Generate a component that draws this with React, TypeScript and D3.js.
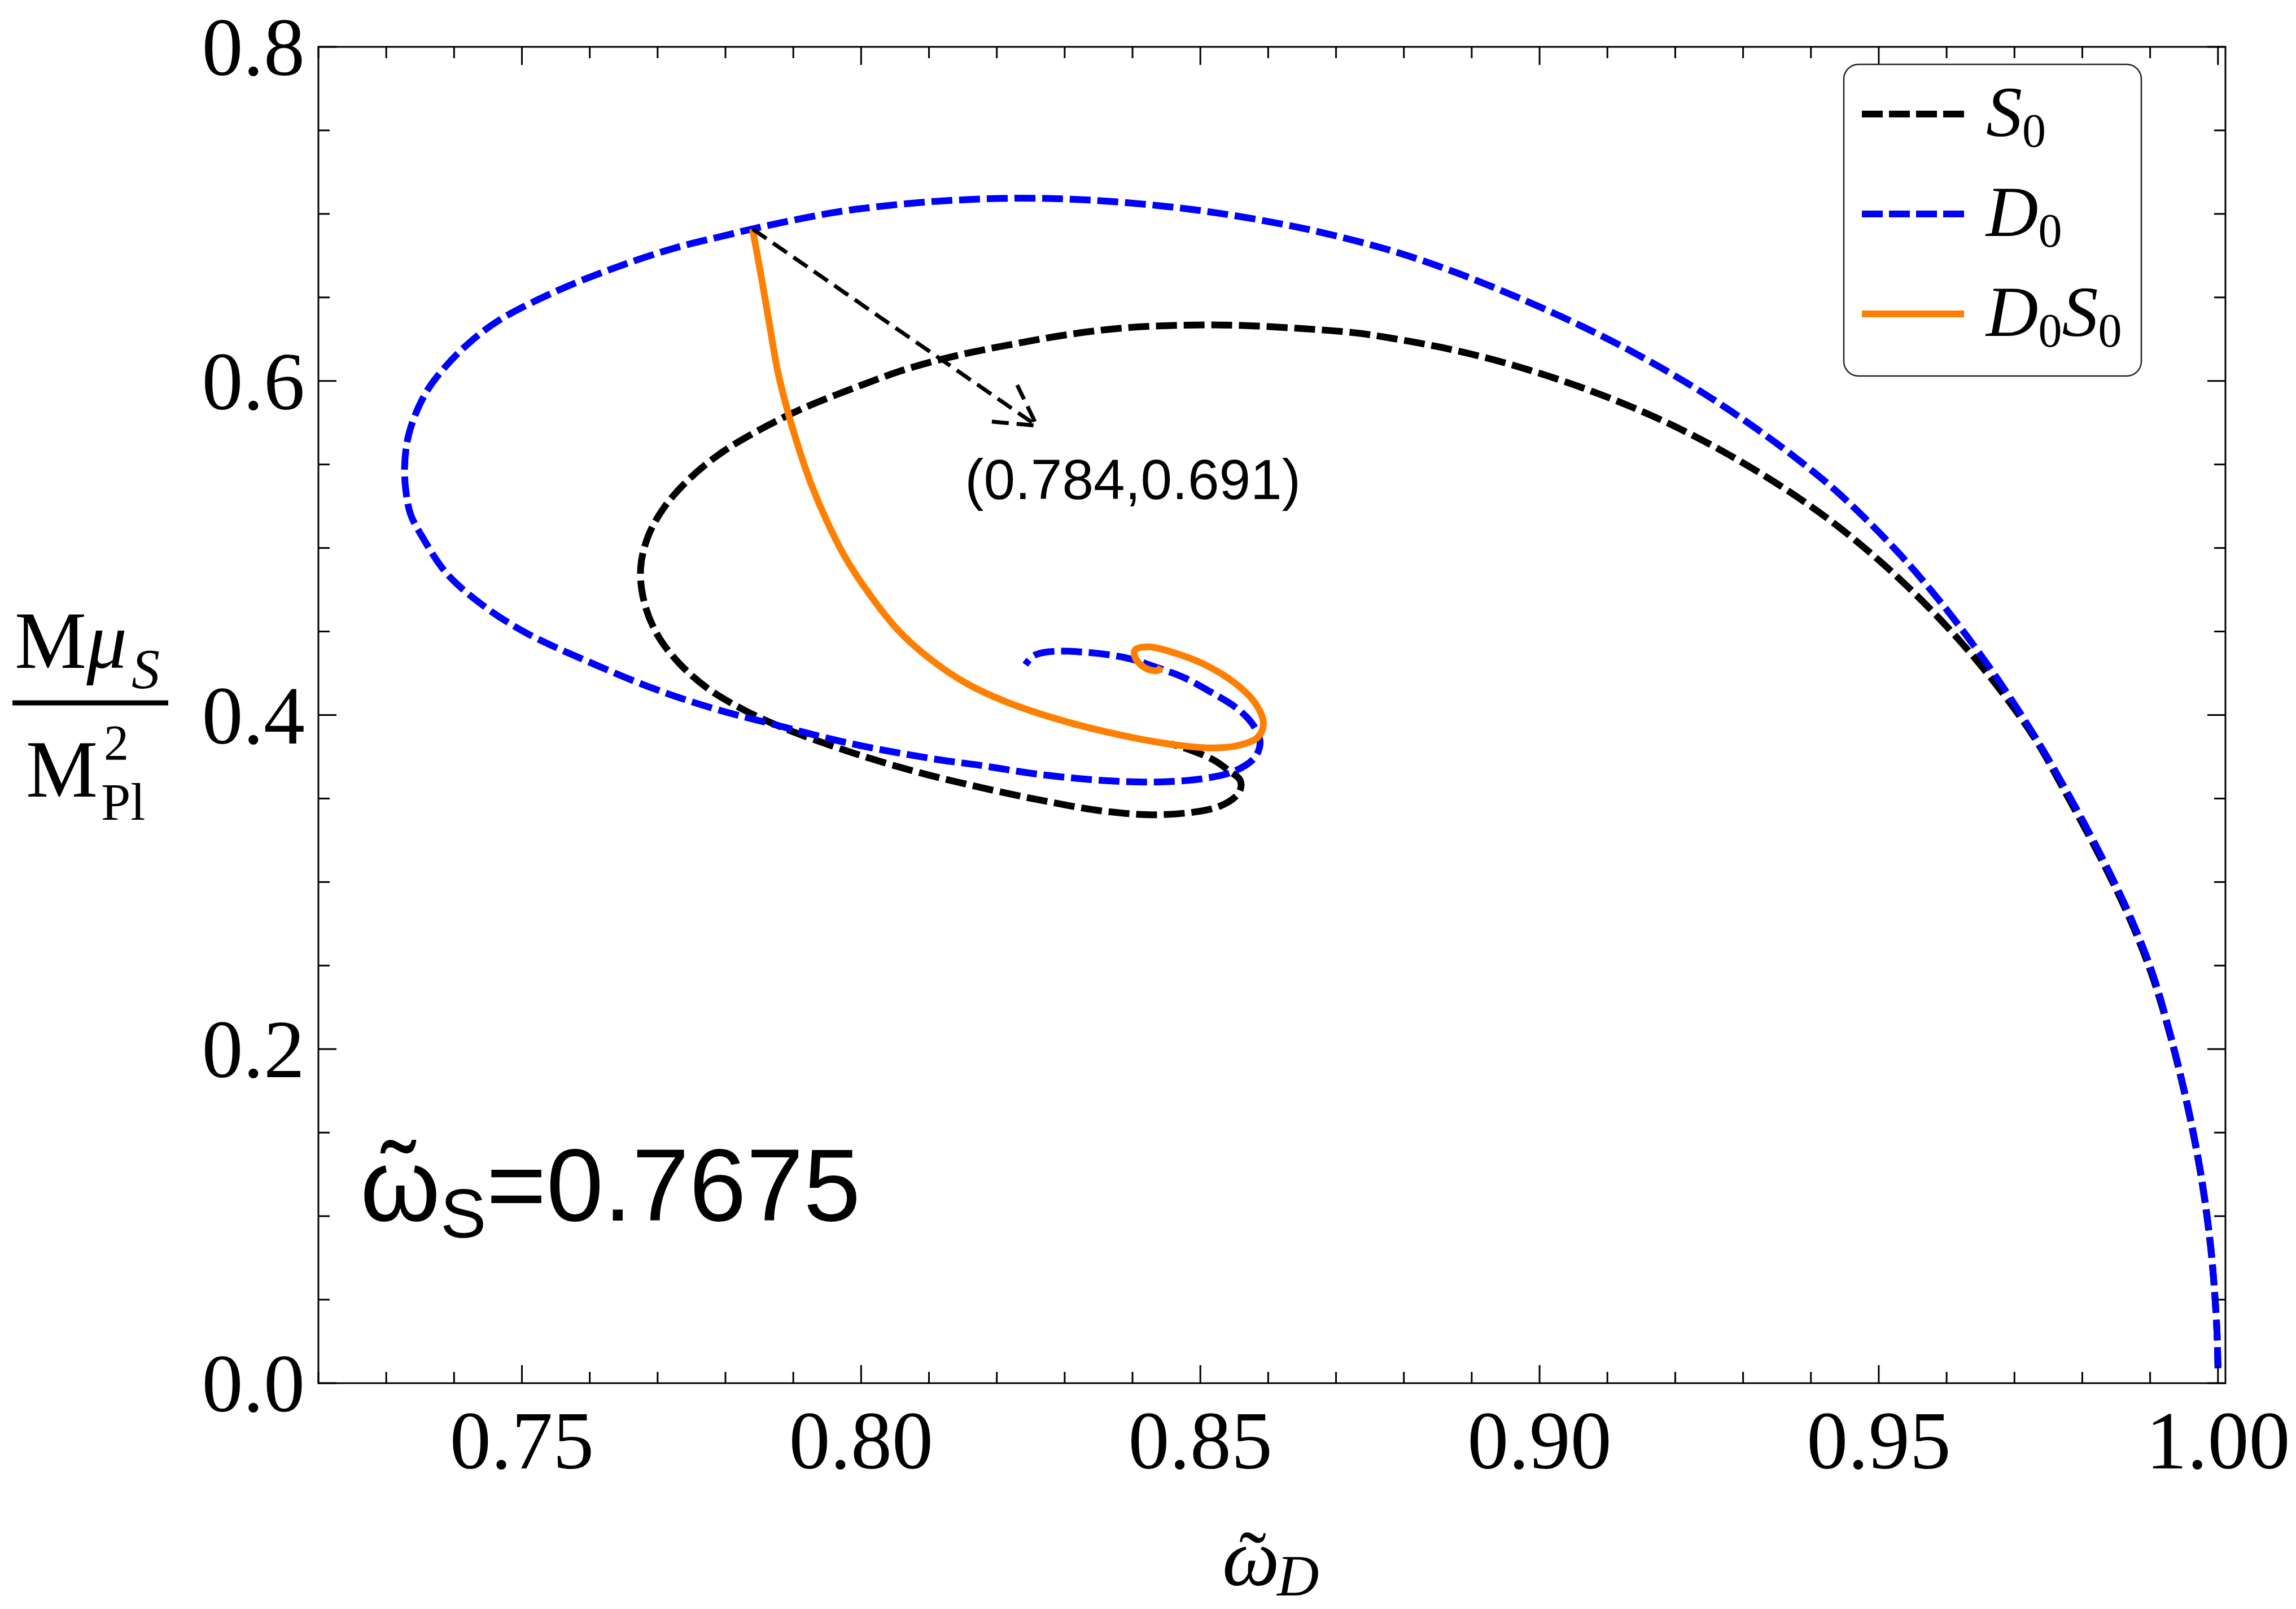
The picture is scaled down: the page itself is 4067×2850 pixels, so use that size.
import React, { useEffect, useRef } from 'react';
import * as d3 from 'd3';

// S0 branch (omega_D, M mu_S / M_Pl^2), traced from the bottom right
const s0Omega = [1.0, 0.99986, 0.9995, 0.99885, 0.9975, 0.9956, 0.9929, 0.9903, 0.987, 0.983, 0.978, 0.973, 0.968, 0.963, 0.958, 0.953, 0.948, 0.943, 0.938, 0.933, 0.928, 0.923, 0.918, 0.913, 0.908, 0.903, 0.898, 0.893, 0.888, 0.883, 0.878, 0.8728, 0.8644, 0.8553, 0.8478, 0.8389, 0.8309, 0.823, 0.815, 0.807, 0.7991, 0.7911, 0.7847, 0.7794, 0.7747, 0.771, 0.7686, 0.7675, 0.768, 0.7699, 0.7731, 0.7773, 0.7826, 0.7884, 0.7979, 0.8075, 0.817, 0.8266, 0.8361, 0.8447, 0.8528, 0.8557, 0.8559, 0.8542, 0.8519, 0.8485, 0.8457];
const s0Mu = [0.009, 0.03, 0.055, 0.084, 0.124, 0.164, 0.209, 0.244, 0.278, 0.312, 0.35, 0.386, 0.4145, 0.4395, 0.4617, 0.4817, 0.4997, 0.516, 0.5305, 0.5436, 0.5556, 0.5666, 0.5765, 0.5854, 0.5934, 0.6006, 0.6071, 0.6129, 0.6179, 0.6221, 0.6257, 0.6288, 0.6315, 0.6333, 0.6334, 0.6318, 0.628, 0.6225, 0.616, 0.6075, 0.596, 0.583, 0.57, 0.557, 0.5415, 0.5245, 0.507, 0.488, 0.468, 0.4485, 0.4313, 0.4162, 0.4033, 0.3925, 0.3785, 0.3667, 0.3572, 0.3489, 0.3423, 0.3404, 0.3453, 0.3536, 0.3607, 0.3667, 0.3732, 0.3791, 0.3827];

// D0 branch
const d0Omega = [1.0, 0.99986, 0.9995, 0.99885, 0.9975, 0.9956, 0.9929, 0.9903, 0.987, 0.983, 0.978, 0.973, 0.968, 0.963, 0.958, 0.953, 0.948, 0.943, 0.938, 0.933, 0.928, 0.923, 0.918, 0.913, 0.908, 0.903, 0.898, 0.893, 0.888, 0.883, 0.878, 0.8728, 0.8644, 0.8534, 0.8442, 0.8336, 0.823, 0.8112, 0.8017, 0.7955, 0.7845, 0.7804, 0.7722, 0.7634, 0.7547, 0.7465, 0.742, 0.7386, 0.736, 0.7342, 0.7331, 0.7327, 0.7329, 0.7336, 0.7354, 0.7389, 0.7442, 0.7506, 0.7594, 0.7693, 0.778, 0.7868, 0.7985, 0.8112, 0.817, 0.8266, 0.8361, 0.8433, 0.8504, 0.8552, 0.8581, 0.8588, 0.8576, 0.8552, 0.8519, 0.8476, 0.8437, 0.839, 0.8323, 0.8275, 0.8254, 0.8242];
const d0Mu = [0.009, 0.03, 0.055, 0.085, 0.125, 0.165, 0.21, 0.246, 0.28, 0.314, 0.3522, 0.3872, 0.4187, 0.4472, 0.4732, 0.4967, 0.5177, 0.5367, 0.5532, 0.5684, 0.5825, 0.5956, 0.6077, 0.6189, 0.6293, 0.6389, 0.6479, 0.6564, 0.6644, 0.6717, 0.6782, 0.684, 0.692, 0.7, 0.7048, 0.7083, 0.7094, 0.7076, 0.704, 0.7005, 0.6915, 0.6875, 0.6792, 0.6673, 0.6531, 0.636, 0.622, 0.608, 0.594, 0.579, 0.564, 0.548, 0.534, 0.52, 0.5061, 0.4848, 0.4658, 0.4492, 0.4326, 0.416, 0.4042, 0.3947, 0.3829, 0.3734, 0.3702, 0.3643, 0.3607, 0.3599, 0.3619, 0.3667, 0.375, 0.3844, 0.3951, 0.4046, 0.4129, 0.4224, 0.4283, 0.4343, 0.4378, 0.4378, 0.4354, 0.4301];

// D0S0 branch
const d0s0Omega = [0.784, 0.7853, 0.7864, 0.7877, 0.7893, 0.7909, 0.7927, 0.7949, 0.7975, 0.8012, 0.8054, 0.8102, 0.8155, 0.8218, 0.8313, 0.8409, 0.847, 0.852, 0.856, 0.8585, 0.8593, 0.8581, 0.8552, 0.8504, 0.8457, 0.8424, 0.8404, 0.8404, 0.8418, 0.8437, 0.8442];
const d0s0Mu = [0.691, 0.6619, 0.6361, 0.6059, 0.58, 0.5585, 0.5375, 0.5165, 0.4955, 0.4725, 0.451, 0.4335, 0.419, 0.4072, 0.3948, 0.3858, 0.3818, 0.3803, 0.3822, 0.3868, 0.3951, 0.407, 0.4188, 0.4307, 0.4378, 0.4408, 0.439, 0.4343, 0.4283, 0.4266, 0.4289];

const xTicks = [0.75, 0.8, 0.85, 0.9, 0.95, 1.0];
const xTickLabels = ['0.75', '0.80', '0.85', '0.90', '0.95', '1.00'];
const yTicks = [0, 0.2, 0.4, 0.6, 0.8];
const yTickLabels = ['0.0', '0.2', '0.4', '0.6', '0.8'];

const markedPoint = [0.784, 0.691];
const arrowTip = [0.8259, 0.5732];
const markedLabel = '(0.784,0.691)';

const W = 4067;
const H = 2850;
const serif = '"Liberation Serif", "Times New Roman", serif';
const sans = '"Liberation Sans", Arial, sans-serif';

const series = [
  { key: 'S0', xs: s0Omega, ys: s0Mu, color: '#000000', dash: '37,12' },
  { key: 'D0', xs: d0Omega, ys: d0Mu, color: '#0000ff', dash: '37,12' },
  { key: 'D0S0', xs: d0s0Omega, ys: d0s0Mu, color: '#ff7f00', dash: null },
];

// legend label pieces: [text, italic, subscript]
const legendLabels: [string, boolean, boolean][][] = [
  [['S', true, false], ['0', false, true]],
  [['D', true, false], ['0', false, true]],
  [['D', true, false], ['0', false, true], ['S', true, false], ['0', false, true]],
];

export default function App() {
  const svgRef = useRef<SVGSVGElement>(null);

  useEffect(() => {
    if (!svgRef.current) return;
    const svg = d3.select(svgRef.current);
    svg.selectAll('*').remove();

    const left = 564, right = 3942, top = 83, bottom = 2450;
    const x = d3.scaleLinear().domain([0.72, 1.0011]).range([left, right]);
    const y = d3.scaleLinear().domain([0, 0.8]).range([bottom, top]);

    svg.append('rect').attr('width', W).attr('height', H).attr('fill', '#fff');

    svg.append('defs').append('clipPath').attr('id', 'plot-clip')
      .append('rect').attr('x', left).attr('y', top)
      .attr('width', right - left).attr('height', bottom - top);

    // curves
    const line = d3.line<[number, number]>()
      .x(d => x(d[0]))
      .y(d => y(d[1]))
      .curve(d3.curveCatmullRom.alpha(0.5));

    const curves = svg.append('g').attr('clip-path', 'url(#plot-clip)');
    series.forEach(s => {
      const pts = s.xs.map((v, i) => [v, s.ys[i]] as [number, number]);
      curves.append('path')
        .attr('d', line(pts) || '')
        .attr('fill', 'none')
        .attr('stroke', s.color)
        .attr('stroke-width', 12)
        .attr('stroke-dasharray', s.dash)
        .attr('stroke-linejoin', 'round');
    });

    // annotation arrow
    const x0 = x(markedPoint[0]), y0 = y(markedPoint[1]);
    const x1 = x(arrowTip[0]), y1 = y(arrowTip[1]);
    const ang = Math.atan2(y1 - y0, x1 - x0);
    const headLen = 80, headAng = (29.5 * Math.PI) / 180;
    const w1 = [x1 - headLen * Math.cos(ang - headAng), y1 - headLen * Math.sin(ang - headAng)];
    const w2 = [x1 - headLen * Math.cos(ang + headAng), y1 - headLen * Math.sin(ang + headAng)];
    const arrow = svg.append('g')
      .attr('fill', 'none').attr('stroke', '#000').attr('stroke-width', 7)
      .attr('stroke-dasharray', '30,14');
    arrow.append('line').attr('x1', x0).attr('y1', y0).attr('x2', x1).attr('y2', y1);
    arrow.append('path').attr('d', `M${w1[0]},${w1[1]}L${x1},${y1}L${w2[0]},${w2[1]}`);

    svg.append('text')
      .attr('x', x1 + 170).attr('y', y1 + 130)
      .attr('text-anchor', 'middle')
      .attr('font-family', sans).attr('font-size', 100)
      .text(markedLabel);

    // frame
    svg.append('rect')
      .attr('x', left).attr('y', top).attr('width', right - left).attr('height', bottom - top)
      .attr('fill', 'none').attr('stroke', '#000').attr('stroke-width', 3);

    const ticks = svg.append('g').attr('stroke', '#000').attr('stroke-width', 3);
    const major = 32, minor = 20;
    const xMinor = d3.range(72, 101).map(v => v / 100);
    xMinor.forEach(v => {
      const isMajor = xTicks.some(t => Math.abs(t - v) < 1e-6);
      const len = isMajor ? major : minor;
      ticks.append('line').attr('x1', x(v)).attr('x2', x(v)).attr('y1', bottom).attr('y2', bottom - len);
      ticks.append('line').attr('x1', x(v)).attr('x2', x(v)).attr('y1', top).attr('y2', top + len);
    });
    const yMinor = d3.range(0, 17).map(v => v * 0.05);
    yMinor.forEach(v => {
      const isMajor = yTicks.some(t => Math.abs(t - v) < 1e-6);
      const len = isMajor ? major : minor;
      ticks.append('line').attr('y1', y(v)).attr('y2', y(v)).attr('x1', left).attr('x2', left + len);
      ticks.append('line').attr('y1', y(v)).attr('y2', y(v)).attr('x1', right).attr('x2', right - len);
    });

    // tick labels
    xTicks.forEach((v, i) => {
      svg.append('text')
        .attr('x', x(v)).attr('y', bottom + 151)
        .attr('text-anchor', 'middle')
        .attr('font-family', serif).attr('font-size', 146)
        .text(xTickLabels[i]);
    });
    yTicks.forEach((v, i) => {
      svg.append('text')
        .attr('x', left - 24).attr('y', y(v) + 50)
        .attr('text-anchor', 'end')
        .attr('font-family', serif).attr('font-size', 146)
        .text(yTickLabels[i]);
    });

    // x axis title: omega-tilde with subscript D
    const xt = svg.append('g').attr('font-family', serif);
    xt.append('text').attr('x', 2165).attr('y', 2808)
      .attr('font-size', 144).attr('font-style', 'italic').text('\u03c9');
    xt.append('text').attr('x', 2219).attr('y', 2812).attr('text-anchor', 'middle')
      .attr('font-size', 144).text('\u02dc');
    xt.append('text').attr('x', 2262).attr('y', 2826)
      .attr('font-size', 103).attr('font-style', 'italic').text('D');

    // y axis title as a fraction
    const yt = svg.append('g').attr('font-family', serif);
    const num = yt.append('text').attr('x', 26).attr('y', 1183).attr('font-size', 143);
    num.append('tspan').text('M');
    num.append('tspan').attr('font-style', 'italic').text('\u03bc');
    num.append('tspan').attr('x', 233).attr('dy', 35).attr('font-size', 100).attr('font-style', 'italic').text('S');
    yt.append('line').attr('x1', 22).attr('x2', 298).attr('y1', 1245).attr('y2', 1245)
      .attr('stroke', '#000').attr('stroke-width', 9);
    yt.append('text').attr('x', 46).attr('y', 1411).attr('font-size', 143).text('M');
    yt.append('text').attr('x', 184).attr('y', 1345).attr('font-size', 88).text('2');
    yt.append('text').attr('x', 179).attr('y', 1452).attr('font-size', 94).text('Pl');

    // omega_S annotation
    const ws = svg.append('g').attr('font-family', sans);
    const wsText = ws.append('text').attr('x', 638).attr('y', 2162).attr('font-size', 182);
    wsText.append('tspan').text('\u03c9');
    wsText.append('tspan').attr('dy', 30).attr('font-size', 122).text('S');
    wsText.append('tspan').attr('dy', -30).text('=0.7675');
    ws.append('text').attr('x', 706).attr('y', 2150).attr('text-anchor', 'middle')
      .attr('font-size', 182).text('\u02dc');

    // legend
    const lg = svg.append('g');
    lg.append('rect')
      .attr('x', 3266).attr('y', 114).attr('width', 527).attr('height', 552)
      .attr('rx', 26).attr('ry', 26)
      .attr('fill', '#fff').attr('stroke', '#222').attr('stroke-width', 2.5);
    series.forEach((s, i) => {
      const ly = 202 + i * 177;
      lg.append('line')
        .attr('x1', 3298).attr('x2', 3479).attr('y1', ly).attr('y2', ly)
        .attr('stroke', s.color).attr('stroke-width', 12)
        .attr('stroke-dasharray', s.dash ? '37,11' : null);
      const t = lg.append('text').attr('x', 3518).attr('y', ly + 39)
        .attr('font-family', serif).attr('font-size', 128);
      let sub = false;
      legendLabels[i].forEach(([txt, ital, isSub]) => {
        const sp = t.append('tspan').text(txt)
          .attr('font-style', ital ? 'italic' : 'normal')
          .attr('font-size', isSub ? 84 : 128);
        if (isSub !== sub) {
          sp.attr('dy', isSub ? 19 : -19);
          sub = isSub;
        }
      });
    });
  }, []);

  return (
    <svg
      ref={svgRef}
      width={W}
      height={H}
      viewBox={`0 0 ${W} ${H}`}
      style={{ position: 'absolute', left: 0, top: 0, display: 'block' }}
    />
  );
}
